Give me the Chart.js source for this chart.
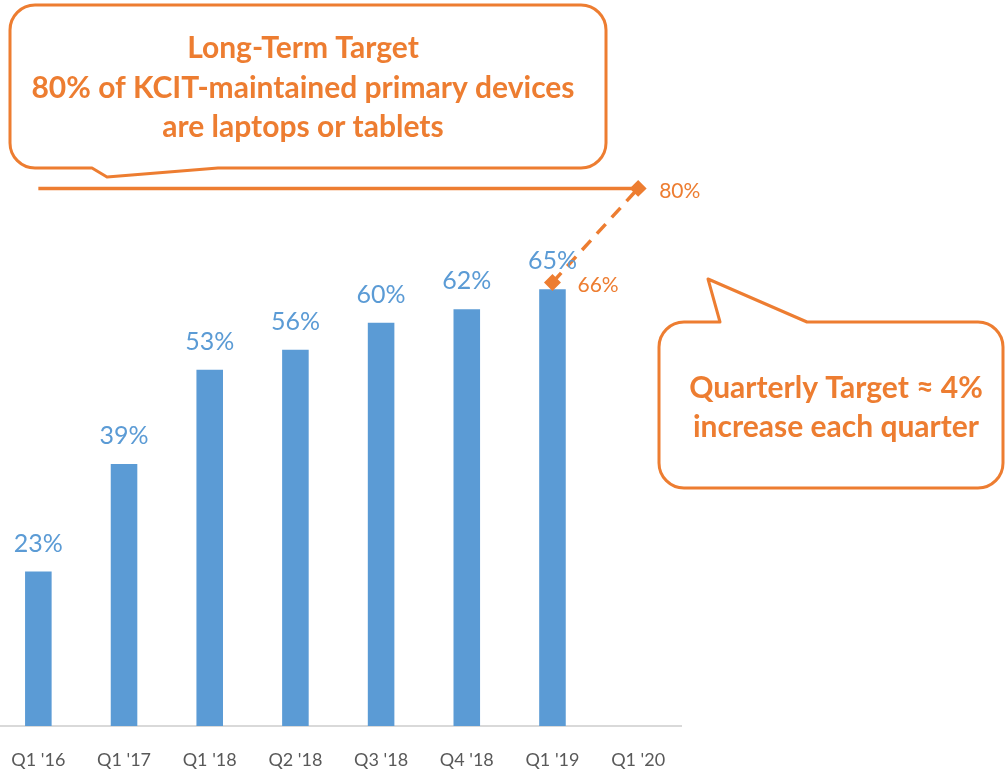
<!DOCTYPE html>
<html>
<head>
<meta charset="utf-8">
<script src="https://cdn.jsdelivr.net/npm/chart.js@4"></script>
<style>
  html, body { margin: 0; padding: 0; background: #fff; overflow: hidden; }
  #wrap { position: absolute; left: -14px; top: 0; }
</style>
</head>
<body>
<div id="wrap"><canvas id="deviceChart" width="1019" height="774"></canvas></div>
<script>
const quarters = ["Q1 '16", "Q1 '17", "Q1 '18", "Q2 '18", "Q3 '18", "Q4 '18", "Q1 '19", "Q1 '20"];
const actualPct = [23, 39, 53, 56, 60, 62, 65, null];
const longTermPct = [80, 80, 80, 80, 80, 80, 80, 80];
const quarterlyPct = [null, null, null, null, null, null, 66, 80];

const BLUE = "#5B9BD5";
const ORANGE = "#ED7D31";
const FONT = "Lato, 'Open Sans', sans-serif";
const OX = 14; // canvas is shifted left by this much

// value labels + callout boxes
const annotations = {
  id: "annotations",
  afterDatasetsDraw(chart) {
    const ctx = chart.ctx;
    ctx.save();
    ctx.font = "25px " + FONT;
    ctx.fillStyle = BLUE;
    ctx.textAlign = "center";
    ctx.textBaseline = "middle";
    chart.getDatasetMeta(0).data.forEach((bar, i) => {
      if (actualPct[i] == null) return;
      ctx.fillText(actualPct[i] + "%", bar.x, bar.y - 28);
    });

    ctx.font = "21px " + FONT;
    ctx.fillStyle = ORANGE;
    ctx.textAlign = "left";
    chart.getDatasetMeta(2).data.forEach((pt, i) => {
      if (quarterlyPct[i] == null) return;
      const dx = i === 7 ? 21 : 25;
      ctx.fillText(quarterlyPct[i] + "%", pt.x + dx, pt.y + 3);
    });
    ctx.restore();
  },
  afterDraw(chart) {
    const ctx = chart.ctx;
    ctx.save();
    ctx.translate(OX, 0);
    ctx.strokeStyle = ORANGE;
    ctx.lineWidth = 3;
    ctx.lineJoin = "round";
    ctx.fillStyle = "#fff";

    // long-term callout
    let x0 = 10, y0 = 5, x1 = 606, y1 = 168, r = 25;
    ctx.beginPath();
    ctx.moveTo(x0 + r, y0);
    ctx.arcTo(x1, y0, x1, y1, r);
    ctx.arcTo(x1, y1, x0, y1, r);
    ctx.lineTo(218, y1);
    ctx.lineTo(107, 177);
    ctx.lineTo(92, y1);
    ctx.arcTo(x0, y1, x0, y0, r);
    ctx.arcTo(x0, y0, x1, y0, r);
    ctx.closePath();
    ctx.fill();
    ctx.stroke();

    // quarterly callout
    x0 = 659; y0 = 322; x1 = 1003; y1 = 488;
    ctx.beginPath();
    ctx.moveTo(x0 + r, y0);
    ctx.lineTo(720, y0);
    ctx.lineTo(708, 279);
    ctx.lineTo(807, y0);
    ctx.arcTo(x1, y0, x1, y1, r);
    ctx.arcTo(x1, y1, x0, y1, r);
    ctx.arcTo(x0, y1, x0, y0, r);
    ctx.arcTo(x0, y0, x1, y0, r);
    ctx.closePath();
    ctx.fill();
    ctx.stroke();

    ctx.fillStyle = ORANGE;
    ctx.font = "bold 30px " + FONT;
    ctx.textAlign = "center";
    ctx.textBaseline = "middle";
    ctx.fillText("Long-Term Target", 303, 48);
    ctx.fillText("80% of KCIT-maintained primary devices", 303, 88);
    ctx.fillText("are laptops or tablets", 303, 127);
    ctx.fillText("Quarterly Target \u2248 4%", 836, 388);
    ctx.fillText("increase each quarter", 836, 427);
    ctx.restore();
  }
};

new Chart(document.getElementById("deviceChart"), {
  type: "bar",
  data: {
    labels: quarters,
    datasets: [
      {
        label: "Laptops or tablets",
        data: actualPct,
        backgroundColor: BLUE,
        categoryPercentage: 1,
        barPercentage: 0.31,
        order: 3,
      },
      {
        type: "line",
        label: "Long-term target",
        data: longTermPct,
        borderColor: ORANGE,
        borderWidth: 3.5,
        pointRadius: 0,
        order: 2,
      },
      {
        type: "line",
        label: "Quarterly target",
        data: quarterlyPct,
        borderColor: ORANGE,
        backgroundColor: ORANGE,
        borderWidth: 3.5,
        borderDash: [13, 9],
        pointStyle: "rectRot",
        pointRadius: 6,
        order: 1,
      },
    ],
  },
  options: {
    responsive: false,
    animation: false,
    layout: { padding: { top: 54, right: 324, bottom: 0, left: 0 } },
    scales: {
      x: {
        grid: { display: false, drawTicks: false },
        border: { color: "#D9D9D9", width: 2 },
        ticks: { color: "#595959", font: { family: FONT, size: 18 }, padding: 23, maxRotation: 0 },
        afterFit: (scale) => { scale.height = 48; },
      },
      y: { display: false, min: 0, max: 100 },
    },
    plugins: { legend: { display: false }, tooltip: { enabled: false } },
  },
  plugins: [annotations],
});
</script>
</body>
</html>
